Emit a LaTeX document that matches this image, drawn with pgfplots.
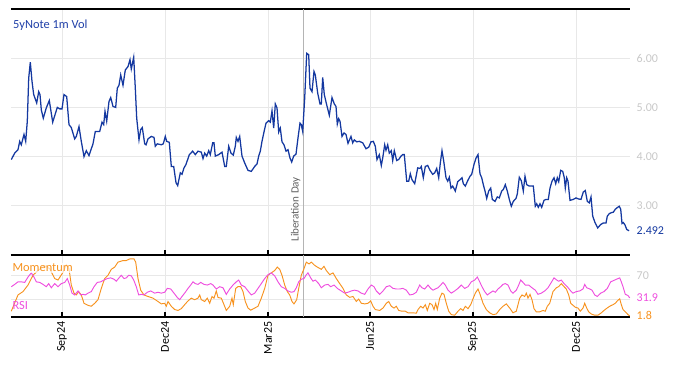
\documentclass[border=0pt]{standalone}
\usepackage{pgfplots}
\pgfplotsset{compat=1.18}
\usepackage{fontspec}
\setmainfont{Carlito}
\definecolor{volblue}{RGB}{20,56,160}
\definecolor{titleblue}{RGB}{32,64,168}
\definecolor{momorange}{RGB}{247,146,30}
\definecolor{rsimag}{RGB}{238,78,222}
\definecolor{gridgray}{RGB}{232,232,232}
\definecolor{ticktxt}{RGB}{200,200,200}
\definecolor{libline}{RGB}{180,180,180}
\definecolor{libtxt}{RGB}{96,96,96}
\pgfplotsset{
  panel/.style={
    scale only axis, width=464.25pt, xmin=11, xmax=630,
    separate axis lines,
    y axis line style={draw=none},
    x axis line style={black, line width=0.9pt},
    xtick={62,165,268,370,473,576},
    xtick pos=left, ytick pos=right, yticklabel pos=right,
    major tick length=3.75pt,
    xtick style={black, line width=0.8pt},
    ytick style={draw=none},
    grid=major, major grid style={gridgray, line width=0.6pt},
    tick label style={font=\fontsize{9}{11}\selectfont},
    yticklabel style={text=ticktxt, anchor=west, xshift=1.5pt},
    /pgf/number format/assume math mode=true,
    clip=true,
  }
}
\begin{document}
\begin{tikzpicture}[x=1pt,y=1pt]
\path[use as bounding box] (0,0) rectangle (505.5,274.5);
\begin{axis}[panel, at={(8.25pt,83.25pt)}, anchor=south west, height=184.5pt,
  ymin=2, ymax=7, ytick={3,4,5,6}, yticklabels={3.00,4.00,5.00,6.00},
  xticklabels={},
  extra y ticks={2.492}, extra y tick labels={2.492},
  extra y tick style={grid=none, yticklabel style={text=volblue}},
]
\addplot[libline, line width=0.7pt] coordinates {(303.3,2) (303.3,7)};
\addplot[volblue, line width=0.95pt] coordinates {
(11.3,3.94)(14.7,4.07)(18,4.14)(19.7,4.31)(21.3,4.24)(24,4.45)(25.7,4.31)(27.3,4.72)(28.7,5.59)(30.3,5.92)(32,5.53)(33.7,5.26)(36.7,5.09)(38.7,5.32)(40,5.26)(41.3,4.95)(43.3,4.78)(46.3,4.99)(49.3,5.14)(52.7,4.70)(57.3,5.00)(59.7,4.97)(62,4.97)(64,5.26)(66.7,5.22)(69,4.65)(71.3,4.59)(74.7,4.36)(76.3,4.41)(79,4.61)(81.3,4.31)(84,4.00)(86.3,4.12)(89,4.02)(93,4.26)(95.3,4.51)(99.7,4.51)(102,4.70)(103.7,4.65)(105,4.92)(106.7,4.72)(109,5.12)(110.7,5.20)(113,5.02)(115.7,5.00)(117.3,5.39)(119,5.45)(120.7,5.66)(123,5.45)(125.3,5.76)(128,5.83)(130,5.97)(131.3,5.78)(133.7,6.02)(135.3,5.39)(136.7,4.78)(139,4.34)(140.7,4.55)(142.3,4.59)(144.7,4.26)(146,4.24)(148,4.36)(151.3,4.41)(154,4.39)(155.3,4.21)(157.3,4.26)(161.3,4.24)(163.3,4.26)(165.3,4.41)
(166.7,4.31)(169.3,4.29)(171.3,3.80)(173.7,3.80)(176,3.47)(177.7,3.41)(180.3,3.67)(182,3.64)(184,3.77)(186,3.84)(189.3,4.04)(192.7,4.11)(195.3,4.04)(198,4.11)(201.3,4.09)(203,3.96)(204.7,4.07)(206.7,4.01)(208.7,4.12)(210.3,4.04)(212.7,4.28)(214,4.28)(215.3,4.01)(218.7,4.04)(222,4.09)(224.7,3.80)(226.3,3.80)(228.7,4.21)(231,4.07)(233.3,4.03)(235.3,4.21)(236.3,4.39)(238,4.31)(239.7,4.41)(242,4.01)(244.7,3.87)(248,3.72)(251.3,3.70)(254.7,3.80)(257,3.85)(258.7,4.01)(260.3,4.11)(262,4.31)(264,4.50)(266,4.68)(268.7,4.73)(270.3,4.70)(272,4.93)(273.7,4.58)(275.3,5.07)(277,4.99)(278.7,4.50)(280.3,4.58)(282,4.30)(284,4.24)(286,4.11)(288,4.14)(290,3.97)(291.7,3.89)(293.7,4.01)(296,4.05)(298,4.38)(300,4.68)(301.3,4.65)(302.7,4.51)(304.7,5.19)(306.7,6.10)(308.7,6.07)(310,5.39)(312,5.32)(314,5.73)(315.3,5.66)
(317.7,5.29)(320,5.07)(321.3,5.07)(322.7,5.61)(324.3,5.26)(326.7,5.05)(329.3,4.84)(332,5.20)(334.3,5.07)(336,5.02)(337.3,4.66)(338.7,4.77)(340,4.72)(342,4.41)(344,4.48)(346,4.45)(348,4.27)(351,4.41)(352.7,4.28)(354.3,4.34)(356.7,4.30)(359.3,4.31)(362.7,4.28)(366,4.16)(368.7,4.19)(371,4.30)(373.3,4.31)(375.3,4.21)(377,3.94)(379.3,4.04)(381.3,3.82)(382.7,3.97)(384.7,4.24)(386,4.13)(387.7,4.24)(389.3,4.07)(391.3,4.12)(392.7,3.92)(394.3,4.12)(396.7,3.92)(398.7,3.94)(401,4.01)(402.7,4.04)(404.3,4.04)(406.7,3.50)(408.7,3.50)(410.3,3.65)(412,3.53)(414.7,3.45)(417.7,3.77)(420,3.76)(421.3,3.80)(423.3,3.57)(425.3,3.80)(427.7,3.82)(430,3.72)(432.7,3.64)(434.7,3.67)(436.7,3.76)(438.7,3.57)(440.3,3.87)(442,4.12)(443.7,3.91)(446,3.57)(447.7,3.50)(449.3,3.58)(451,3.36)(452.7,3.40)(455.3,3.30)(457.7,3.49)(460,3.53)(462,3.57)(463.3,3.45)(465.3,3.40)(467.7,3.51)(470,3.60)(471.7,3.64)
(474,3.84)(476,3.97)(478,4.04)(480,3.65)(481.7,3.57)(483.3,3.43)(485,3.30)(486.7,3.15)(488.7,3.30)(490.7,3.36)(492.3,3.13)(495,3.09)(497.3,3.18)(499.3,3.16)(501.7,3.30)(503.3,3.33)(505.3,3.43)(507.3,3.30)(509.3,3.13)(511.3,2.99)(513.3,3.09)(516,3.15)(517.3,3.24)(519.3,3.58)(521.3,3.51)(523.3,3.30)(525,3.60)(526.7,3.43)(529.3,3.40)(533.3,3.40)(535.3,2.99)(536.7,3.04)(538.3,2.97)(540,3.04)(541.7,2.97)(544,3.11)(546,3.13)(548.3,3.13)(550,3.36)(552,3.50)(554,3.57)(555.7,3.45)(557.3,3.57)(558.7,3.49)(560.7,3.72)(562.7,3.70)(564.3,3.57)(565.3,3.36)(566.7,3.57)(568,3.50)(570,3.11)(573.3,3.13)(576,3.16)(578.3,3.14)(581,3.13)(583.3,3.28)(585.3,3.31)(587.3,3.09)(589.3,3.06)(591,3.18)(592.7,2.79)(595,2.66)(597.7,2.55)(600.7,2.62)(603.3,2.65)(606,2.65)(607.3,2.79)(609.3,2.84)(611.3,2.86)(613.3,2.87)(615.3,2.93)(617.7,2.97)(619.3,2.99)(620.7,2.93)(622,2.64)(623.3,2.66)(625,2.61)(626.7,2.52)(629,2.492)
};
\node[anchor=south west, rotate=90, text=libtxt, inner sep=1pt, font=\fontsize{8.3}{10}\selectfont] at (axis cs:302,2.24) {Liberation Day};
\node[anchor=west, text=titleblue, inner sep=0pt, font=\fontsize{9.3}{11}\selectfont] at (axis description cs:0.003,0.935) {5yNote 1m Vol};
\end{axis}
\begin{axis}[panel, at={(8.25pt,36.75pt)}, anchor=south west, height=46.5pt,
  ymin=0, ymax=104, ytick={30,70}, yticklabels={,70},
  xticklabels={Sep24,Dec24,Mar25,Jun25,Sep25,Dec25},
  xticklabel style={rotate=90, anchor=east, text=black},
  extra y ticks={1.8,31.9}, extra y tick labels={\textcolor{momorange}{1.8},\textcolor{rsimag}{31.9}},
  extra y tick style={grid=none},
]
\addplot[libline, line width=0.7pt] coordinates {(303.3,0) (303.3,104)};
\addplot[momorange, line width=0.7pt] coordinates {
(11.3,9.7)(18,37)(23,42.6)(28,53.6)(33,70)(38,78)(44.7,86)(49.7,81)(54.7,64.5)(58,62)(63,75)(66.3,87.5)(69,81)(71.3,53.6)(74,40)(76.3,37)(78.7,42.6)(81.3,37)(84,23)(88,19.6)(91.3,18)(94.7,23)(98,29)(101.3,48)(104.7,64.5)(108,70)(111.3,80)(114.7,83.7)(118,92)(123,94.7)(126.3,94.7)(129.7,97.4)(134,97.4)(135.7,92)(138,64.5)(140.7,45)(144,37)(148,34.4)(153,31.6)(158,26)(161.3,22)(164.7,23)(166.3,18)(168,26)(171.3,18)(174.7,12.5)(178,11)(181.3,14)(184.7,20.7)(188,27)(191.3,31.6)(194.7,29)(198,31.6)(199.7,37)(201.3,29)(204.7,26)(207.3,31.6)(209.7,23)(212,34.4)(214,31.6)(216.3,43.7)(218,32.7)(221.3,31.6)(224,20.7)(226.3,11)(229.7,18)(232,31.6)(233.3,20.7)(235.7,48)(238,51)(240.7,51)(243,42.6)(245.3,26)(248,15)(250.7,11.4)(254.7,15)(258,18)(261.3,31.6)(264.7,48)(268,70)(271.3,74)(274.7,78)(277.3,83.7)(279.7,80)(282,70)(284.7,53.6)(287.3,42.6)(289.7,37)(292,26)(294,22)(296.7,29)(298.7,48)(301.3,70)(304,81)(306.3,92)(309,89)(311.3,92)(314,87.5)(317.3,83.7)
(321.3,80)(324,85)(326.3,78)(329.7,71)(333,74)(336.3,64.5)(339.7,56)(343,48)(346.3,37)(349.7,33)(353,34.4)(356.3,26)(358.7,30)(361.3,23)(364.7,22)(368,23)(370.7,27)(373,18)(375.3,12.5)(379.7,11)(383,15)(386.3,23)(388.7,26)(391.3,18)(394,15)(396.3,18)(398.7,11)(402,9.7)(405.3,9.7)(408,7)(413,7)(416.3,6.4)(418,12.5)(420.7,18)(423,15)(425.3,20.7)(427.3,11)(429.7,23)(432,20.7)(434,12.5)(435.7,23)(437.3,12.5)(439.7,31.6)(442,40)(444,38)(446.3,23)(448.7,9.7)(451.3,4)(454.7,3)(458,9.7)(460.7,14)(463,11)(465.3,18)(468,14)(470.7,20.7)(473,30.5)(475.3,40)(478,47)(480.3,37)(483,23)(486.3,12.5)(489.7,7)(493,4)(496.3,5)(499.7,12.5)(503,18)(506.3,22)(509.7,15)(513,7)(516.3,9.7)(518,20.7)(519.7,31.6)(522,37)(524.7,34.4)(526.3,40)(528,31.6)(530,38)(532,29)(534,14)(536.3,8.6)(539.7,8.6)(543,11)(545.3,9.7)(547.3,18)(549.7,23)(553,42.6)(556.3,49)(558.7,51)(561.3,56)(564,51)(566.3,47)(568.7,37)(570.7,23)(573,19.6)(575.3,16.4)(578,15)(580.3,9.7)(583,15)(584.7,23)(586.7,15)(588.7,8.6)(591.3,5)(594.7,3)(598,3)(601.3,7)(604,11)(606.3,14)(609.7,18)(613,20.7)(615.3,23)(617.3,27)(619.7,30.5)(621.3,20.7)(623,12.5)(625.3,8.6)(628,4)(629.7,1.8)
};
\addplot[rsimag, line width=0.7pt] coordinates {
(11.3,50.8)(14.7,54.7)(18,59)(21.3,59)(24.7,58)(28,67)(31.3,74)(34,67)(36.3,59)(39.7,58)(43,54.7)(46.3,50.8)(48.7,56)(51.3,49)(54.7,56)(58,50.8)(61.3,56)(64.7,58)(67.3,64.5)(69.7,53.6)(72,40)(74.7,37)(78,43.7)(80.7,37)(83,38)(85.3,37)(88,40)(91.3,42.6)(94,50.8)(97.3,58)(100.7,59)(104,62)(107.3,64.5)(110.7,65.6)(114,63.4)(116.3,60)(119,65.6)(121.3,70)(124,64.5)(126.3,65.6)(128.7,70)(131.3,69)(133.7,62)(136.3,50.8)(138.7,37)(141.3,38)(144,37)(147.3,41.5)(150.7,43.7)(154.7,40)(158,41.5)(161.3,40)(164.7,41.5)(167.3,48)(170.7,47)(174,40)(177.3,32.7)(179.7,29)(182,34.4)(185.3,41.5)(188,48)(190.7,53.6)(193,59)(195.3,56)(198,54.7)(200.7,58)(204,54.7)(207.3,53.6)(210.7,56)(213,53.6)(216.3,47)(219.7,50.8)(223,49)(226.3,38)(229.7,47)(233,53.6)(236.3,59)(238.7,62)(241.3,53.6)(244.7,50.8)(248,43.7)(251.3,37)(254.7,40)(258,48)(261.3,56)(264.7,64.5)(268,71)(271.3,74)(274.7,69)(278,59)(281.3,50.8)(284.7,48)(288,43.7)(291.3,41.5)(294,42.6)(296.3,49)(298.7,59)(301.3,63.4)(304,64.5)(306.3,71)(308,74)(310.7,65.6)(313,60)(315.3,62)(318.7,56)
(321.3,49)(324.7,53.6)(328,54.7)(330.7,50.8)(334,53.6)(337.3,48)(341.3,43.7)(344.7,40)(348,41.5)(351.3,43.7)(354.7,45)(358,43.7)(361.3,40)(364.7,38)(368,47)(371.3,53.6)(374,50.8)(376.3,43.7)(379.7,38)(383,43.7)(386.3,50.8)(389.7,52.5)(393,48)(396.3,47)(399.7,47)(403,48)(406.3,45)(409.7,37)(413,38)(416.3,41.5)(419.7,53.6)(422,49)(424.7,47)(428,53.6)(430.7,48)(433,45)(435.3,47)(438,49)(440.7,53.6)(443,58)(445.3,53.6)(448,45)(451.3,40)(454.7,43.7)(458,48)(461.3,53.6)(464.7,48)(468,50.8)(471.3,59)(474.7,62)(477.3,67)(479.7,59)(482,50.8)(484.7,42.6)(487.3,37)(489.7,40)(493,43.7)(495.3,41.5)(498,47)(500.7,50.8)(503,54.7)(505.3,56)(508,53.6)(510.7,43.7)(513,40)(516.3,45)(518.7,53.6)(520.7,62)(523,58)(525.3,53.6)(528.7,53.6)(532,49)(535.3,45)(538,38)(541.3,40)(544.7,43.7)(548,49)(551.3,58)(554,65.6)(556.7,62)(558.7,60)(561.3,62)(564,56)(567.3,50.8)(570.7,43.7)(573,40)(576.3,42.6)(579.7,43.7)(583,47)(584.7,54.7)(586.7,49)(589.7,47)(592,45)(594.7,37)(597.3,34.4)(600.7,40)(604,42.6)(607.3,48)(610.7,59)(614.7,62)(618,64.5)(619.7,65.6)(621.3,59)(623,50.8)(625.3,38)(628,36)(629.7,31.9)
};
\node[anchor=west, text=momorange, fill=white, fill opacity=0.7, text opacity=1, inner sep=1pt, font=\fontsize{9.3}{11}\selectfont] at (axis description cs:0.0,0.79) {Momentum};
\node[anchor=west, text=rsimag, inner sep=1pt, font=\fontsize{9.3}{11}\selectfont] at (axis description cs:0.0,0.18) {RSI};
\end{axis}
\end{tikzpicture}
\end{document}
